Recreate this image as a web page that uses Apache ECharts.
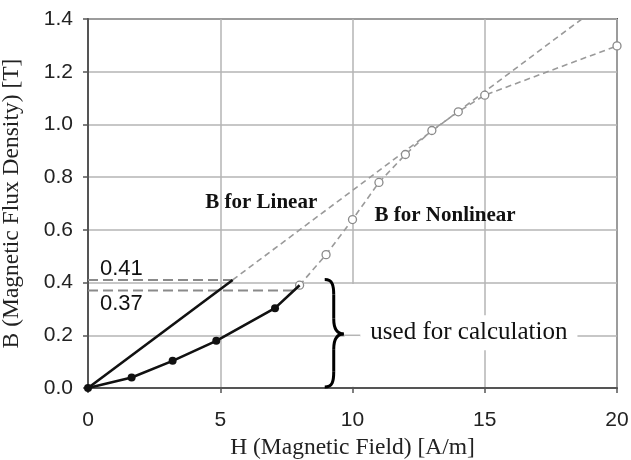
<!DOCTYPE html>
<html><head><meta charset="utf-8">
<script src="https://cdn.jsdelivr.net/npm/echarts@6/dist/echarts.min.js"></script>
<style>html,body{margin:0;padding:0;background:#fff}#c{width:631px;height:460px}</style>
</head><body><div id="c"></div>
<script>
// ---- data ----
const xTickStep = 5;
const yTickStep = 0.2;
const linearSolid = [[0, 0], [5.47, 0.41]];
const linearDashed = [[5.47, 0.41], [18.67, 1.4]];
const nonlinearSolidH = [0, 1.65, 3.2, 4.85, 7.07, 8];
const nonlinearSolidB = [0, 0.04, 0.103, 0.179, 0.303, 0.39];
const nonlinearDashedH = [8, 9, 10, 11, 12, 13, 14, 15, 20];
const nonlinearDashedB = [0.39, 0.506, 0.639, 0.78, 0.886, 0.977, 1.048, 1.111, 1.298];
const refLevels = [0.41, 0.37];
const refEnds = [5.47, 7.8];
const refLabels = ['0.41', '0.37'];

const serif = '"Liberation Serif", "Times New Roman", serif';
const sans = '"Liberation Sans", Arial, sans-serif';

const chart = echarts.init(document.getElementById('c'), null, {renderer: 'canvas'});

const nlSolid = nonlinearSolidH.map((h, i) => {
  const last = i === nonlinearSolidH.length - 1;
  return last ? {value: [h, nonlinearSolidB[i]], symbol: 'none'} : [h, nonlinearSolidB[i]];
});
const nlDashed = nonlinearDashedH.map((h, i) => [h, nonlinearDashedB[i]]);

const refSeries = refLevels.map((lv, i) => ({
  type: 'line', data: [[0, lv], [refEnds[i], lv]], symbol: 'none', z: 3,
  lineStyle: {color: '#8a8a8a', width: 2, type: [10, 5]}
}));

chart.setOption({
  animation: false,
  grid: {left: 88, top: 19, right: 14, bottom: 72, containLabel: false, outerBoundsMode: 'none',
         show: true, borderColor: '#555', borderWidth: 2},
  xAxis: {
    type: 'value', min: 0, max: 20, interval: xTickStep,
    name: 'H (Magnetic Field) [A/m]', nameLocation: 'middle', nameGap: 37,
    nameTextStyle: {fontFamily: serif, fontSize: 23.5, color: '#222'},
    axisLine: {show: true, lineStyle: {color: '#555', width: 2}},
    axisTick: {show: true, length: 5, lineStyle: {color: '#555', width: 1.5}},
    axisLabel: {fontFamily: sans, fontSize: 21, color: '#222', margin: 22},
    splitLine: {show: true, lineStyle: {color: '#b5b5b5', width: 1.5}}
  },
  yAxis: {
    type: 'value', min: 0, max: 1.4, interval: yTickStep,
    name: 'B (Magnetic Flux Density) [T]', nameLocation: 'middle', nameGap: 64,
    nameTextStyle: {fontFamily: serif, fontSize: 23.5, color: '#222'},
    axisLine: {show: true, lineStyle: {color: '#555', width: 2}},
    axisTick: {show: true, length: 5, lineStyle: {color: '#555', width: 1.5}},
    axisLabel: {fontFamily: sans, fontSize: 21, color: '#222', margin: 15, formatter: v => v.toFixed(1)},
    splitLine: {show: true, lineStyle: {color: '#b5b5b5', width: 1.5}}
  },
  series: [
    ...refSeries,
    {type: 'line', data: linearDashed, symbol: 'none', z: 3,
     lineStyle: {color: '#9a9a9a', width: 1.6, type: [6, 4]}},
    {type: 'line', data: linearSolid, symbol: 'none', z: 4,
     lineStyle: {color: '#111', width: 2.6}},
    {type: 'line', data: nlDashed, symbol: 'circle', symbolSize: 8, z: 4,
     itemStyle: {color: '#fff', borderColor: '#8a8a8a', borderWidth: 1.3},
     lineStyle: {color: '#9a9a9a', width: 1.6, type: [6, 4]}},
    {type: 'line', data: nlSolid, symbol: 'circle', symbolSize: 8, z: 5,
     itemStyle: {color: '#111'},
     lineStyle: {color: '#111', width: 2.6}}
  ]
});

// ---- annotations ----
const P = (x, y) => chart.convertToPixel({gridIndex: 0}, [x, y]);
const g = [];
// white box hiding the x=10 grid line next to the brace
const bTop = P(8.95, 0.415), bBot = P(8.95, 0.0), bMid = P(8.95, 0.205);
const boxL = P(9.7, 0.395), boxR = P(10.3, 0.005);
g.push({type: 'rect', z: 1, shape: {x: boxL[0], y: boxL[1], width: boxR[0] - boxL[0], height: boxR[1] - boxL[1]},
  style: {fill: '#fff'}});
const gl1 = P(9.6, 0.2), gl2 = P(10.4, 0.2);
g.push({type: 'line', z: 1, shape: {x1: gl1[0], y1: gl1[1], x2: gl2[0], y2: gl2[1]},
  style: {stroke: '#b5b5b5', lineWidth: 1.5}});
// brace
const x0 = bTop[0], yt = bTop[1] + 1, yb = bBot[1] - 1, ym = bMid[1];
const w = 19, xm = x0 + 9, q = (ym - yt) * 0.28;
const braceStyle = {stroke: '#000', lineWidth: 3, fill: null};
g.push({type: 'bezierCurve', z: 6, shape: {x1: x0, y1: yt, x2: xm, y2: yt + q, cpx1: xm - 1, cpy1: yt, cpx2: xm, cpy2: yt + q * 0.4}, style: braceStyle});
g.push({type: 'line', z: 6, shape: {x1: xm, y1: yt + q, x2: xm, y2: ym - q}, style: braceStyle});
g.push({type: 'bezierCurve', z: 6, shape: {x1: xm, y1: ym - q, x2: x0 + w, y2: ym, cpx1: xm, cpy1: ym - q * 0.3, cpx2: xm + 4, cpy2: ym}, style: braceStyle});
g.push({type: 'bezierCurve', z: 6, shape: {x1: x0 + w, y1: ym, x2: xm, y2: ym + q, cpx1: xm + 4, cpy1: ym, cpx2: xm, cpy2: ym + q * 0.3}, style: braceStyle});
g.push({type: 'line', z: 6, shape: {x1: xm, y1: ym + q, x2: xm, y2: yb - q}, style: braceStyle});
g.push({type: 'bezierCurve', z: 6, shape: {x1: xm, y1: yb - q, x2: x0, y2: yb, cpx1: xm, cpy1: yb - q * 0.4, cpx2: xm - 1, cpy2: yb}, style: braceStyle});

const txt = (pos, text, font, extra) => Object.assign({
  type: 'text', z: 7, x: pos[0], y: pos[1],
  style: Object.assign({text, font, fill: '#111', align: 'center', verticalAlign: 'middle'}, extra || {})
});
g.push(txt(P(14.4, 0.21), 'used for calculation', '25px ' + serif, {backgroundColor: '#fff', padding: [5, 10]}));
g.push(txt(P(6.55, 0.705), 'B for Linear', 'bold 21px ' + serif));
g.push(txt(P(13.5, 0.655), 'B for Nonlinear', 'bold 21px ' + serif));
g.push(txt(P(0.45, 0.45), refLabels[0], '22px ' + sans, {align: 'left'}));
g.push(txt(P(0.45, 0.32), refLabels[1], '22px ' + sans, {align: 'left'}));

chart.setOption({graphic: g});
</script>
</body></html>
